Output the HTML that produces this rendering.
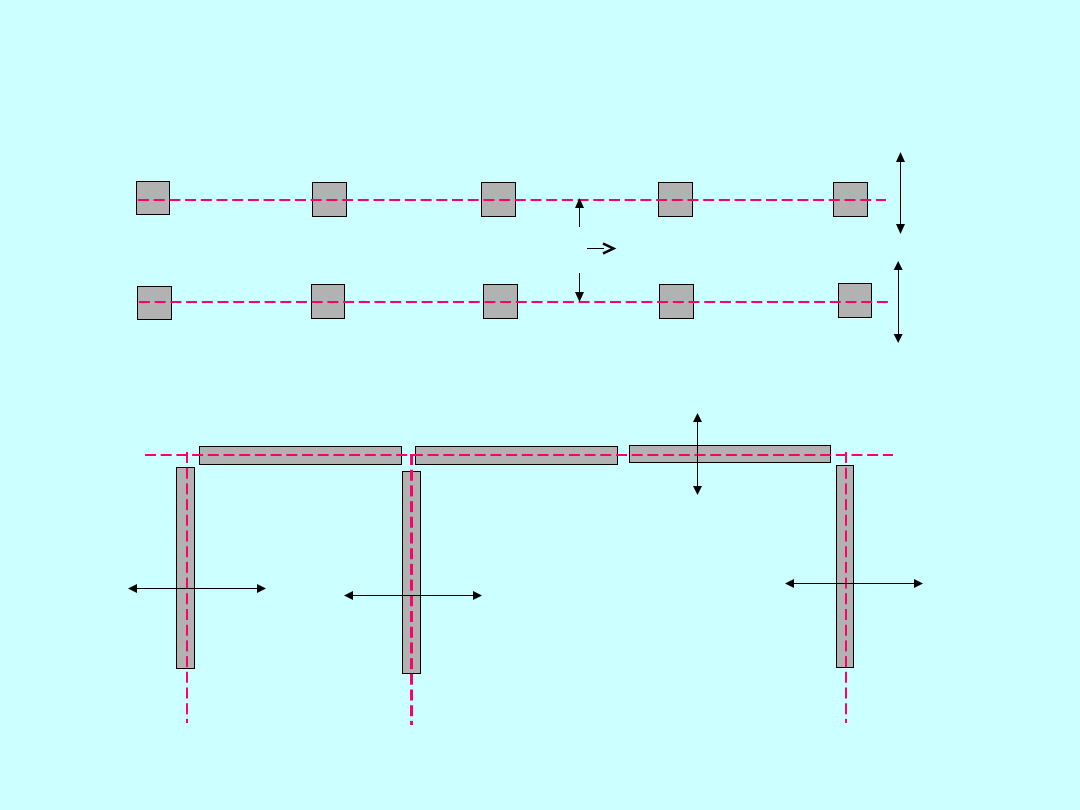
<!DOCTYPE html>
<html>
<head>
<meta charset="utf-8">
<style>
html,body{margin:0;padding:0;background:#ccffff;width:1080px;height:810px;overflow:hidden}
svg{display:block}
.b{fill:#b2b2b2;stroke:#000;stroke-width:1}
.d{stroke:#ff0066;stroke-width:2;stroke-dasharray:11 4.7;fill:none}
.a{stroke:#000;stroke-width:1;fill:none}
.h{fill:#000}
</style>
</head>
<body>
<svg width="1080" height="810" viewBox="0 0 1080 810" xmlns="http://www.w3.org/2000/svg">
<rect width="1080" height="810" fill="#ccffff"/>
<!-- row 1 squares -->
<rect class="b" x="136.500" y="181.500" width="33" height="33"/>
<rect class="b" x="312.500" y="182.500" width="34" height="34"/>
<rect class="b" x="481.500" y="182.500" width="34" height="34"/>
<rect class="b" x="658.500" y="182.500" width="34" height="34"/>
<rect class="b" x="833.500" y="182.500" width="34" height="34"/>
<!-- row 2 squares -->
<rect class="b" x="137.500" y="286.500" width="34" height="33"/>
<rect class="b" x="311.500" y="284.500" width="33" height="34"/>
<rect class="b" x="483.500" y="284.500" width="34" height="34"/>
<rect class="b" x="659.500" y="284.500" width="34" height="34"/>
<rect class="b" x="838.500" y="283.500" width="33" height="34"/>
<line class="d" x1="138" y1="200" x2="886" y2="200"/>
<line class="d" x1="139" y1="302" x2="888" y2="302"/>
<!-- center arrows -->
<line class="a" x1="579.500" y1="227" x2="579.500" y2="205"/>
<polygon class="h" points="579.500,198 575,208 584,208"/>
<line class="a" x1="579.500" y1="273" x2="579.500" y2="295"/>
<polygon class="h" points="579.500,302 575,292 584,292"/>
<line class="a" x1="587" y1="248.500" x2="604" y2="248.500"/>
<polyline points="603,243.500 613.500,248.500 603,253.500" fill="none" stroke="#000" stroke-width="2.500"/>
<!-- right double arrows -->
<line class="a" x1="900.500" y1="158" x2="900.500" y2="228"/>
<polygon class="h" points="900.500,152 896,162 905,162"/>
<polygon class="h" points="900.500,234 896,224 905,224"/>
<line class="a" x1="898.500" y1="267" x2="898.500" y2="337"/>
<polygon class="h" points="898.200,261 893.700,270 902.700,270"/>
<polygon class="h" points="898.200,343 893.700,334 902.700,334"/>
<!-- bars -->
<rect class="b" x="199.500" y="446.500" width="202" height="18"/>
<rect class="b" x="415.500" y="446.500" width="202" height="18"/>
<rect class="b" x="629.500" y="445.500" width="201" height="17"/>
<rect class="b" x="176.500" y="467.500" width="18" height="201"/>
<rect class="b" x="402.500" y="471.500" width="18" height="202"/>
<rect class="b" x="836.500" y="465.500" width="17" height="202"/>
<line class="d" x1="145" y1="455" x2="893" y2="455"/>
<line class="d" x1="187" y1="452" x2="187" y2="723"/>
<line class="d" x1="411.500" y1="454" x2="411.500" y2="725" style="stroke-width:3"/>
<line class="d" x1="846" y1="452" x2="846" y2="723"/>
<!-- bar arrows -->
<line class="a" x1="697.500" y1="419" x2="697.500" y2="489"/>
<polygon class="h" points="697.500,413 693,422 702,422"/>
<polygon class="h" points="697.500,495 693,486 702,486"/>
<line class="a" x1="134" y1="588.500" x2="260" y2="588.500"/>
<polygon class="h" points="128,588.500 137,584 137,593"/>
<polygon class="h" points="266,588.500 257,584 257,593"/>
<line class="a" x1="350" y1="595.500" x2="476" y2="595.500"/>
<polygon class="h" points="344,595.500 353,591 353,600"/>
<polygon class="h" points="482,595.500 473,591 473,600"/>
<line class="a" x1="791" y1="583.500" x2="917" y2="583.500"/>
<polygon class="h" points="785,583.500 794,579 794,588"/>
<polygon class="h" points="923,583.500 914,579 914,588"/>
</svg>
</body>
</html>
